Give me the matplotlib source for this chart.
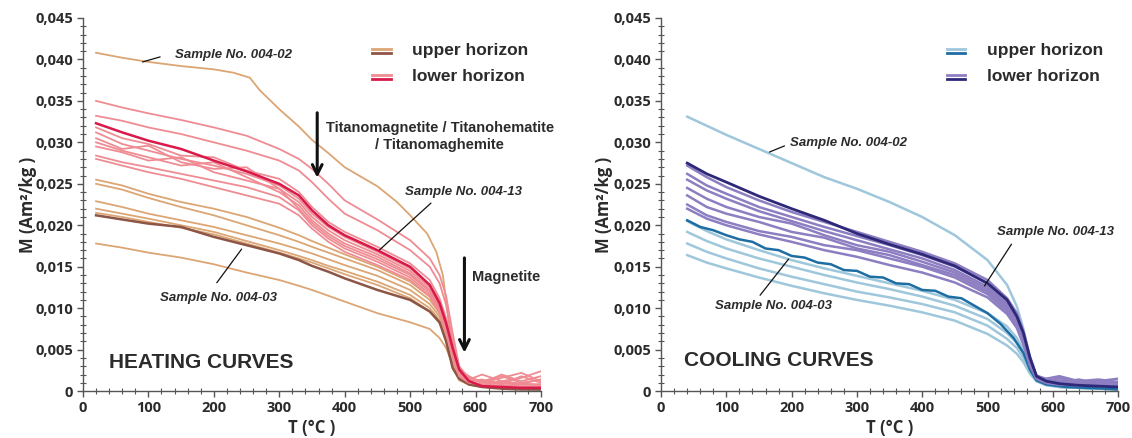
import matplotlib
matplotlib.use("Agg")
import matplotlib.pyplot as plt
from matplotlib.ticker import MultipleLocator, FuncFormatter

# ---- heating curves (T in deg C, M in Am2/kg) ----
t_heat = [20, 60, 100, 150, 200, 250, 300, 330, 350, 375, 400, 450, 500,
          530, 545, 555, 565, 575, 590, 610, 640, 670, 700]

heat_upper = [
    [.0255, .0248, .0238, .0228, .0220, .0210, .0197, .0188, .0181, .0173, .0165, .0150, .0132,
     .0114, .0098, .0080, .0040, .0018, .0010, .0006, .0004, .0003, .0003],
    [.0250, .0243, .0233, .0222, .0212, .0200, .0188, .0180, .0174, .0167, .0160, .0146, .0128,
     .0110, .0094, .0076, .0036, .0016, .0009, .0006, .0004, .0003, .0003],
    [.0229, .0222, .0214, .0206, .0198, .0188, .0178, .0171, .0166, .0159, .0152, .0139, .0122,
     .0105, .0090, .0072, .0034, .0015, .0009, .0006, .0004, .0003, .0003],
    [.0220, .0214, .0208, .0200, .0192, .0181, .0170, .0163, .0158, .0151, .0145, .0132, .0116,
     .0100, .0086, .0068, .0030, .0014, .0008, .0005, .0004, .0003, .0002],
    [.0215, .0210, .0204, .0197, .0189, .0178, .0167, .0160, .0155, .0148, .0141, .0128, .0112,
     .0096, .0082, .0064, .0028, .0013, .0008, .0005, .0004, .0003, .0002],
    [.0178, .0173, .0167, .0161, .0153, .0143, .0134, .0127, .0122, .0115, .0108, .0094, .0083,
     .0075, .0064, .0052, .0032, .0018, .0010, .0006, .0004, .0003, .0003],
]
# Sample No. 004-02 (own temperature steps)
t_0402 = [20, 60, 100, 150, 200, 230, 255, 270, 300, 330, 350, 375, 400, 450, 480, 500,
          526, 540, 550, 558, 565, 575, 590, 620, 660, 700]
heat_0402 = [.0408, .0402, .0397, .0392, .0388, .0384, .0378, .0363, .0340, .0319, .0303, .0287,
             .0270, .0247, .0228, .0212, .0190, .0168, .0140, .0090, .0040, .0018, .0010, .0006,
             .0004, .0003]
heat_0403 = [.0212, .0207, .0202, .0198, .0186, .0176, .0166, .0158, .0151, .0144, .0136, .0122,
             .0110, .0096, .0083, .0060, .0028, .0015, .0008, .0005, .0003, .0002, .0002]

heat_lower = [
    [.0350, .0342, .0335, .0327, .0318, .0308, .0292, .0280, .0268, .0250, .0230, .0207, .0182,
     .0160, .0140, .0115, .0070, .0030, .0015, .0012, .0010, .0009, .0008],
    [.0332, .0326, .0318, .0310, .0300, .0290, .0278, .0266, .0252, .0232, .0214, .0194, .0170,
     .0150, .0130, .0104, .0060, .0026, .0014, .0011, .0009, .0008, .0008],
    [.0318, .0305, .0298, .0284, .0282, .0266, .0256, .0240, .0222, .0204, .0192, .0174, .0154,
     .0134, .0112, .0088, .0056, .0028, .0016, .0012, .0018, .0010, .0014],
    [.0312, .0298, .0290, .0280, .0272, .0262, .0248, .0232, .0214, .0198, .0186, .0168, .0148,
     .0128, .0108, .0084, .0052, .0026, .0018, .0010, .0016, .0022, .0012],
    [.0305, .0292, .0296, .0276, .0268, .0270, .0244, .0228, .0210, .0194, .0182, .0165, .0145,
     .0125, .0104, .0080, .0048, .0024, .0014, .0020, .0012, .0016, .0024],
    [.0300, .0290, .0282, .0272, .0276, .0258, .0240, .0224, .0206, .0190, .0178, .0162, .0142,
     .0122, .0102, .0078, .0046, .0022, .0016, .0010, .0020, .0012, .0018],
    [.0295, .0288, .0278, .0282, .0264, .0254, .0244, .0220, .0203, .0187, .0175, .0159, .0140,
     .0120, .0100, .0076, .0044, .0022, .0012, .0014, .0008, .0018, .0010],
    [.0284, .0276, .0270, .0262, .0254, .0246, .0234, .0218, .0200, .0184, .0172, .0156, .0137,
     .0117, .0097, .0073, .0042, .0020, .0012, .0008, .0012, .0009, .0014],
    [.0280, .0272, .0264, .0256, .0246, .0236, .0226, .0212, .0196, .0180, .0168, .0152, .0134,
     .0114, .0094, .0070, .0040, .0018, .0010, .0008, .0007, .0006, .0006],
]
heat_0413 = [.0323, .0312, .0302, .0292, .0278, .0265, .0250, .0236, .0218, .0200, .0188, .0170,
             .0150, .0128, .0106, .0082, .0052, .0026, .0012, .0006, .0005, .0004, .0004]

# ---- cooling curves ----
t_cool = [40, 70, 100, 150, 200, 250, 300, 350, 400, 450, 500, 530, 545, 555, 565, 575,
          590, 610, 640, 670, 700]

cool_upper = [
    [.0331, .0320, .0309, .0292, .0275, .0258, .0244, .0228, .0210, .0188, .0158, .0128, .0102,
     .0075, .0040, .0015, .0009, .0006, .0004, .0004, .0003],
    [.0205, .0193, .0183, .0170, .0158, .0148, .0139, .0130, .0121, .0110, .0094, .0078, .0064,
     .0050, .0028, .0014, .0009, .0006, .0004, .0003, .0003],
    [.0192, .0181, .0172, .0160, .0150, .0140, .0131, .0123, .0114, .0103, .0087, .0070, .0058,
     .0045, .0025, .0013, .0008, .0005, .0004, .0003, .0003],
    [.0178, .0168, .0160, .0148, .0138, .0129, .0120, .0113, .0105, .0095, .0079, .0063, .0052,
     .0040, .0023, .0012, .0008, .0005, .0004, .0003, .0002],
    [.0164, .0155, .0148, .0137, .0127, .0118, .0110, .0103, .0095, .0085, .0069, .0055, .0045,
     .0035, .0021, .0012, .0007, .0005, .0004, .0003, .0002],
]
t_cool_0403 = [40, 60, 80, 100, 120, 140, 160, 180, 200, 220, 240, 260, 280, 300, 320, 340,
               360, 380, 400, 420, 440, 460, 480, 500, 520, 540, 555, 565, 575, 590, 620,
               650, 680, 700]
cool_0403 = [.0206, .0198, .0194, .0188, .0183, .0180, .0172, .0170, .0163, .0161, .0155, .0153,
             .0146, .0145, .0138, .0137, .0130, .0129, .0122, .0121, .0114, .0112, .0103, .0094,
             .0081, .0064, .0046, .0026, .0013, .0008, .0005, .0004, .0003, .0002]

cool_lower = [
    [.0272, .0258, .0246, .0230, .0216, .0204, .0192, .0180, .0168, .0154, .0134, .0112, .0094,
     .0072, .0042, .0019, .0014, .0012, .0010, .0009, .0010],
    [.0262, .0248, .0238, .0222, .0210, .0198, .0187, .0176, .0164, .0150, .0130, .0108, .0090,
     .0068, .0040, .0018, .0015, .0018, .0012, .0014, .0011],
    [.0255, .0242, .0232, .0217, .0205, .0193, .0182, .0171, .0160, .0146, .0126, .0105, .0087,
     .0066, .0038, .0017, .0012, .0016, .0010, .0012, .0015],
    [.0245, .0232, .0222, .0210, .0202, .0188, .0176, .0168, .0156, .0143, .0123, .0102, .0084,
     .0063, .0036, .0016, .0013, .0010, .0014, .0009, .0011],
    [.0236, .0222, .0214, .0204, .0192, .0185, .0172, .0164, .0152, .0140, .0120, .0099, .0081,
     .0060, .0034, .0016, .0011, .0013, .0009, .0012, .0008],
    [.0225, .0212, .0204, .0193, .0186, .0176, .0170, .0160, .0150, .0137, .0117, .0096, .0078,
     .0058, .0032, .0015, .0010, .0008, .0011, .0008, .0010],
    [.0220, .0208, .0200, .0189, .0180, .0170, .0162, .0152, .0143, .0131, .0113, .0093, .0076,
     .0056, .0031, .0015, .0010, .0008, .0007, .0007, .0006],
]
cool_0413 = [.0275, .0262, .0252, .0235, .0220, .0206, .0190, .0177, .0165, .0151, .0130, .0110,
             .0090, .0070, .0040, .0018, .0012, .0009, .0007, .0006, .0005]

TAN, BROWN = "#DCA574", "#8C5546"
PINK, CRIMSON = "#EF8C93", "#D8194A"
LBLUE, TEAL = "#9FC7DC", "#1E6EA3"
PURPLE, NAVY = "#8D7EC2", "#2D2878"
TXT = "#2b2b2b"

fig = plt.figure(figsize=(11.32, 4.38), dpi=100)
ax1 = fig.add_axes([0.0733, 0.107, 0.4046, 0.852])
ax2 = fig.add_axes([0.584, 0.107, 0.4037, 0.852])

# heating
for m in heat_upper:
    ax1.plot(t_heat, m, color=TAN, lw=1.3)
ax1.plot(t_0402, heat_0402, color=TAN, lw=1.3)
ax1.plot(t_heat, heat_0403, color=BROWN, lw=1.8)
for m in heat_lower:
    ax1.plot(t_heat, m, color=PINK, lw=1.3)
ax1.plot(t_heat, heat_0413, color=CRIMSON, lw=1.8)

# cooling
for m in cool_upper:
    ax2.plot(t_cool, m, color=LBLUE, lw=1.8)
ax2.plot(t_cool_0403, cool_0403, color=TEAL, lw=1.8)
for m in cool_lower:
    ax2.plot(t_cool, m, color=PURPLE, lw=1.8)
ax2.plot(t_cool, cool_0413, color=NAVY, lw=2.0)

fmt = FuncFormatter(lambda v, p: "0" if abs(v) < 1e-9 else f"{v:.3f}".replace(".", ","))
for ax in (ax1, ax2):
    ax.set_xlim(0, 700)
    ax.set_ylim(0, 0.045)
    ax.xaxis.set_major_locator(MultipleLocator(100))
    ax.xaxis.set_minor_locator(MultipleLocator(20))
    ax.yaxis.set_major_locator(MultipleLocator(0.005))
    ax.yaxis.set_minor_locator(MultipleLocator(0.001))
    ax.yaxis.set_major_formatter(fmt)
    for s in ("top", "right"):
        ax.spines[s].set_visible(False)
    for s in ("left", "bottom"):
        ax.spines[s].set_color("#555555")
        ax.spines[s].set_linewidth(1.0)
    ax.tick_params(which="major", direction="out", length=4, width=1, color="#555555",
                   labelsize=10.5, labelcolor=TXT, pad=3)
    ax.tick_params(which="minor", direction="inout", length=4, width=0.8, color="#555555")
    for lab in ax.get_xticklabels() + ax.get_yticklabels():
        lab.set_fontfamily("Open Sans")
        lab.set_fontweight("bold")
    ax.set_ylabel("M (Am²/kg )", fontsize=12, fontweight="bold", color=TXT, family="Open Sans")
    ax.set_xlabel("T (°C )", fontsize=12, fontweight="bold", color=TXT, family="Open Sans")
    ax.xaxis.set_label_coords(0.5, -0.075)
ax1.yaxis.set_label_coords(-0.1, 0.5)
ax2.yaxis.set_label_coords(-0.106, 0.5)

ann = dict(family="Liberation Sans", fontweight="bold", color=TXT)
sample = dict(family="Liberation Sans", fontweight="bold", style="italic", color=TXT, fontsize=9.5)
lead = dict(arrowstyle="-", color="#111111", lw=0.9)


def legend(ax, x0, x1, xt, light, dark):
    for y, c1, c2, lab in ((0.912, light[0], dark[0], "upper horizon"),
                           (0.842, light[1], dark[1], "lower horizon")):
        ax.plot([x0, x1], [y + 0.006, y + 0.006], color=c1, lw=2, transform=ax.transAxes, clip_on=False)
        ax.plot([x0, x1], [y - 0.006, y - 0.006], color=c2, lw=2, transform=ax.transAxes, clip_on=False)
        ax.text(xt, y, lab, transform=ax.transAxes, ha="left", va="center", fontsize=12.5, **ann)


legend(ax1, 0.631, 0.672, 0.718, (TAN, PINK), (BROWN, CRIMSON))
legend(ax2, 0.626, 0.665, 0.713, (LBLUE, PURPLE), (TEAL, NAVY))

# heating annotations
ax1.annotate("", xy=(87, 0.0396), xytext=(122, 0.0404), arrowprops=lead)
ax1.text(141, 0.0405, "Sample No. 004-02", ha="left", va="center", **sample)
ax1.text(545, 0.0307, "Titanomagnetite / Titanohematite\n/ Titanomaghemite", ha="center",
         va="center", fontsize=10.5, linespacing=1.2, **ann)
ax1.annotate("", xy=(358, 0.0254), xytext=(358, 0.0339),
             arrowprops=dict(arrowstyle="->,head_length=0.7,head_width=0.35", color="#111111", lw=2.2))
ax1.annotate("", xy=(450, 0.0168), xytext=(535, 0.0229), arrowprops=lead)
ax1.text(492, 0.0240, "Sample No. 004-13", ha="left", va="center", **sample)
ax1.text(595, 0.0138, "Magnetite", ha="left", va="center", fontsize=10.5, **ann)
ax1.annotate("", xy=(583, 0.0043), xytext=(583, 0.0164),
             arrowprops=dict(arrowstyle="->,head_length=0.7,head_width=0.35", color="#111111", lw=2.2))
ax1.annotate("", xy=(245, 0.0174), xytext=(202, 0.0128), arrowprops=lead)
ax1.text(118, 0.0112, "Sample No. 004-03", ha="left", va="center", **sample)
ax1.text(40, 0.0035, "HEATING CURVES", ha="left", va="center", fontsize=15, **ann)

# cooling annotations
ax2.annotate("", xy=(162, 0.0287), xytext=(193, 0.0297), arrowprops=lead)
ax2.text(198, 0.0299, "Sample No. 004-02", ha="left", va="center", **sample)
ax2.annotate("", xy=(493, 0.0124), xytext=(539, 0.0180), arrowprops=lead)
ax2.text(514, 0.0192, "Sample No. 004-13", ha="left", va="center", **sample)
ax2.annotate("", xy=(198, 0.0162), xytext=(149, 0.0113), arrowprops=lead)
ax2.text(83, 0.0103, "Sample No. 004-03", ha="left", va="center", **sample)
ax2.text(35, 0.0037, "COOLING CURVES", ha="left", va="center", fontsize=15, **ann)

fig.savefig("out.png", dpi=100)
